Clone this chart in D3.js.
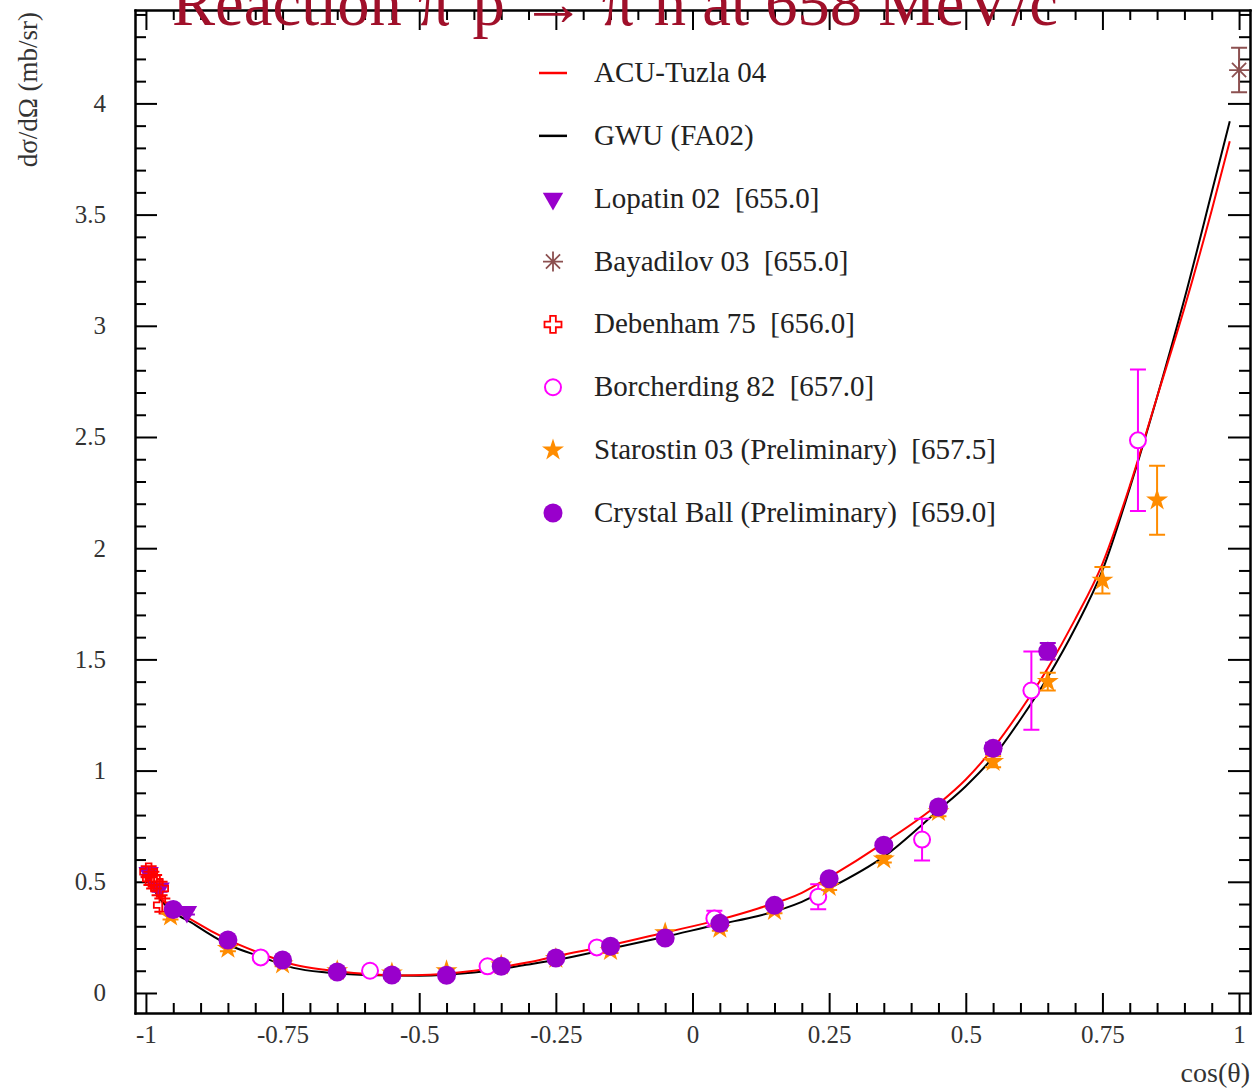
<!DOCTYPE html>
<html>
<head>
<meta charset="utf-8">
<script src="https://cdn.jsdelivr.net/npm/d3@7"></script>
<style>
  html, body { margin: 0; padding: 0; background: #fff; }
  svg { display: block; }
  text { font-family: "Liberation Serif", "Times New Roman", serif; white-space: pre; }
</style>
</head>
<body>
<svg id="chart" width="1254" height="1088"></svg>
<script>
// Axis ticks
const xMajorTicks = [-1, -0.75, -0.5, -0.25, 0, 0.25, 0.5, 0.75, 1];
const yMajorTicks = [0, 0.5, 1, 1.5, 2, 2.5, 3, 3.5, 4];

// Model curves: [cos(theta), dsigma/dOmega]
const acuTuzla = [
  [-1, 0.52], [-0.97, 0.42], [-0.91, 0.32], [-0.85, 0.24], [-0.79, 0.178],
  [-0.73, 0.128], [-0.67, 0.103], [-0.6, 0.086], [-0.54, 0.079], [-0.48, 0.082],
  [-0.4, 0.1], [-0.3, 0.138], [-0.25, 0.165], [-0.15, 0.215], [-0.05, 0.272],
  [0.05, 0.33], [0.12, 0.38], [0.2, 0.45], [0.25, 0.52], [0.35, 0.675],
  [0.45, 0.85], [0.5, 0.96], [0.55, 1.1], [0.6, 1.27], [0.65, 1.46],
  [0.7, 1.68], [0.75, 1.93], [0.8, 2.28], [0.85, 2.68], [0.9, 3.08],
  [0.95, 3.52], [0.983, 3.83]
];
const gwuFA02 = [
  [-1, 0.52], [-0.97, 0.41], [-0.91, 0.306], [-0.85, 0.218], [-0.79, 0.163],
  [-0.73, 0.113], [-0.67, 0.092], [-0.6, 0.081], [-0.5, 0.078], [-0.4, 0.092],
  [-0.3, 0.128], [-0.25, 0.148], [-0.15, 0.2], [-0.05, 0.253], [0.05, 0.31],
  [0.12, 0.346], [0.2, 0.41], [0.25, 0.47], [0.35, 0.613], [0.45, 0.822],
  [0.5, 0.93], [0.55, 1.06], [0.6, 1.23], [0.65, 1.42], [0.7, 1.64],
  [0.75, 1.9], [0.8, 2.27], [0.85, 2.68], [0.9, 3.12], [0.95, 3.6],
  [0.983, 3.92]
];

// Measurements: [cos(theta), value, error]
const lopatin02 = [[-0.995, 0.54, 0.015], [-0.975, 0.47, 0.015], [-0.925, 0.365, 0.012]];
const bayadilov03 = [[1.0, 4.15, 0.10]];
const debenham75 = [
  [-0.995, 0.545, 0.025], [-0.99, 0.515, 0.03], [-0.985, 0.5, 0.03],
  [-0.975, 0.47, 0.03], [-0.97, 0.395, 0.03]
];
const borcherding82 = [
  [-0.79, 0.16, 0.01], [-0.59, 0.1, 0.01], [-0.375, 0.12, 0.01], [-0.175, 0.205, 0.01],
  [0.04, 0.335, 0.035], [0.23, 0.433, 0.056], [0.42, 0.69, 0.094], [0.62, 1.36, 0.176],
  [0.815, 2.485, 0.318]
];
const starostin03 = [
  [-0.955, 0.345, 0.015], [-0.85, 0.2, 0.012], [-0.75, 0.13, 0.01], [-0.65, 0.1, 0.008],
  [-0.55, 0.09, 0.008], [-0.45, 0.1, 0.008], [-0.35, 0.125, 0.008], [-0.25, 0.155, 0.01],
  [-0.15, 0.19, 0.01], [-0.05, 0.27, 0.01], [0.05, 0.29, 0.01], [0.15, 0.37, 0.012],
  [0.25, 0.478, 0.015], [0.35, 0.602, 0.015], [0.45, 0.815, 0.02], [0.55, 1.04, 0.025],
  [0.65, 1.4, 0.04], [0.75, 1.856, 0.06], [0.85, 2.216, 0.155]
];
const crystalBall = [
  [-0.95, 0.375, 0.015], [-0.85, 0.238, 0.01], [-0.75, 0.148, 0.008], [-0.65, 0.094, 0.006],
  [-0.55, 0.081, 0.006], [-0.45, 0.08, 0.006], [-0.35, 0.12, 0.006], [-0.25, 0.157, 0.008],
  [-0.15, 0.21, 0.008], [-0.05, 0.247, 0.008], [0.05, 0.313, 0.01], [0.15, 0.394, 0.012],
  [0.25, 0.514, 0.014], [0.35, 0.664, 0.016], [0.45, 0.836, 0.02], [0.55, 1.1, 0.025],
  [0.65, 1.537, 0.037]
];

const legendLabels = [
  "ACU-Tuzla 04", "GWU (FA02)", "Lopatin 02  [655.0]", "Bayadilov 03  [655.0]",
  "Debenham 75  [656.0]", "Borcherding 82  [657.0]",
  "Starostin 03 (Preliminary)  [657.5]", "Crystal Ball (Preliminary)  [659.0]"
];

const svg = d3.select("#chart");
const frame = { left: 135, right: 1250, top: 10, bottom: 1013 };

const x = d3.scaleLinear().domain([-1.02, 1.02]).range([frame.left, frame.right]);
const y = d3.scaleLinear().domain([-0.09, 4.42]).range([frame.bottom, frame.top]);

// ---- marker shapes ----
function openCrossPath(s) {
  const h = s / 2, a = s / 6;
  return `M${-a},${-h}H${a}V${-a}H${h}V${a}H${a}V${h}H${-a}V${a}H${-h}V${-a}H${-a}Z`;
}
function asteriskPath(s) {
  const h = s / 2, d = h * Math.SQRT1_2;
  return `M0,${-h}V${h}M${-h},0H${h}M${-d},${-d}L${d},${d}M${-d},${d}L${d},${-d}`;
}
const styles = {
  lopatin: { color: "#9900cc", draw: g => g.append("path").attr("d", d3.symbol(d3.symbolTriangle, 180)()).attr("transform", "rotate(180)").attr("fill", "#9900cc") },
  bayadilov: { color: "#8c5050", draw: g => g.append("path").attr("d", asteriskPath(20)).attr("fill", "none").attr("stroke", "#8c5050").attr("stroke-width", 1.8) },
  debenham: { color: "#ff0000", draw: g => g.append("path").attr("d", openCrossPath(17)).attr("fill", "none").attr("stroke", "#ff0000").attr("stroke-width", 1.8) },
  borcherding: { color: "#ff00ff", draw: g => g.append("circle").attr("r", 8).attr("fill", "#fff").attr("stroke", "#ff00ff").attr("stroke-width", 2) },
  starostin: { color: "#ff8c00", draw: g => g.append("path").attr("d", d3.symbol(d3.symbolStar, 150)()).attr("fill", "#ff8c00") },
  crystal: { color: "#9900cc", draw: g => g.append("circle").attr("r", 9.5).attr("fill", "#9900cc") }
};

// ---- axes (ticks drawn inward on all four sides) ----
const range = (a, b, s) => d3.range(Math.round(a / s), Math.round(b / s) + 1).map(i => +(i * s).toFixed(4));
const xMinor = range(-1, 1, 0.05).filter(v => !xMajorTicks.includes(v));
const yMinor = range(0, 4.4, 0.1).filter(v => !yMajorTicks.includes(v));
const fmt = d => String(d);

function styleAxis(g) {
  g.select(".domain").attr("stroke", "#000").attr("stroke-width", 2);
  g.selectAll(".tick line").attr("stroke", "#000").attr("stroke-width", 2);
  g.selectAll(".tick text").attr("fill", "#333").attr("font-size", 25)
    .attr("font-family", '"Liberation Serif", serif');
}

const axes = svg.append("g");
// bottom
axes.append("g").attr("transform", `translate(0,${frame.bottom})`)
  .call(d3.axisBottom(x).tickValues(xMinor).tickSize(-10).tickSizeOuter(0).tickFormat(""))
  .call(styleAxis);
axes.append("g").attr("transform", `translate(0,${frame.bottom})`)
  .call(d3.axisBottom(x).tickValues(xMajorTicks).tickSize(-20).tickSizeOuter(0).tickPadding(12).tickFormat(fmt))
  .call(styleAxis);
// top
axes.append("g").attr("transform", `translate(0,${frame.top})`)
  .call(d3.axisTop(x).tickValues(xMinor).tickSize(-10).tickSizeOuter(0).tickFormat(""))
  .call(styleAxis);
axes.append("g").attr("transform", `translate(0,${frame.top})`)
  .call(d3.axisTop(x).tickValues(xMajorTicks).tickSize(-20).tickSizeOuter(0).tickFormat(""))
  .call(styleAxis);
// left
axes.append("g").attr("transform", `translate(${frame.left},0)`)
  .call(d3.axisLeft(y).tickValues(yMinor).tickSize(-11).tickSizeOuter(0).tickFormat(""))
  .call(styleAxis);
axes.append("g").attr("transform", `translate(${frame.left},0)`)
  .call(d3.axisLeft(y).tickValues(yMajorTicks).tickSize(-22).tickSizeOuter(0).tickPadding(29).tickFormat(fmt))
  .call(styleAxis);
// right
axes.append("g").attr("transform", `translate(${frame.right},0)`)
  .call(d3.axisRight(y).tickValues(yMinor).tickSize(-11).tickSizeOuter(0).tickFormat(""))
  .call(styleAxis);
axes.append("g").attr("transform", `translate(${frame.right},0)`)
  .call(d3.axisRight(y).tickValues(yMajorTicks).tickSize(-22).tickSizeOuter(0).tickFormat(""))
  .call(styleAxis);
axes.selectAll(".domain").attr("stroke-linecap", "square");

// ---- model curves ----
const line = d3.line().x(d => x(d[0])).y(d => y(d[1])).curve(d3.curveMonotoneX);
svg.append("path").datum(gwuFA02).attr("d", line)
  .attr("fill", "none").attr("stroke", "#000").attr("stroke-width", 2);
svg.append("path").datum(acuTuzla).attr("d", line)
  .attr("fill", "none").attr("stroke", "#ff0000").attr("stroke-width", 2);

// ---- measurements with error bars ----
function drawSeries(data, key) {
  const st = styles[key];
  const g = svg.append("g");
  const pts = g.selectAll("g").data(data).join("g");
  pts.append("path")
    .attr("d", d => {
      const cx = x(d[0]), y0 = y(d[1] - d[2]), y1 = y(d[1] + d[2]), c = 8;
      return `M${cx},${y0}V${y1}M${cx - c},${y0}H${cx + c}M${cx - c},${y1}H${cx + c}`;
    })
    .attr("fill", "none").attr("stroke", st.color).attr("stroke-width", 2);
  pts.append("g").attr("transform", d => `translate(${x(d[0])},${y(d[1])})`)
    .each(function () { st.draw(d3.select(this)); });
}
drawSeries(lopatin02, "lopatin");
drawSeries(bayadilov03, "bayadilov");
drawSeries(debenham75, "debenham");
drawSeries(borcherding82, "borcherding");
drawSeries(starostin03, "starostin");
drawSeries(crystalBall, "crystal");

// ---- legend ----
const legendKeys = ["acu", "gwu", "lopatin", "bayadilov", "debenham", "borcherding", "starostin", "crystal"];
const legend = svg.append("g");
legendKeys.forEach((k, i) => {
  const cy = 73 + i * 62.85;
  const row = legend.append("g").attr("transform", `translate(553,${cy})`);
  if (k === "acu" || k === "gwu") {
    row.append("line").attr("x1", -14).attr("x2", 14)
      .attr("stroke", k === "acu" ? "#ff0000" : "#000").attr("stroke-width", 2.5);
  } else {
    styles[k].draw(row);
  }
  legend.append("text").attr("x", 594).attr("y", cy + 9)
    .attr("font-size", 29).attr("fill", "#222").text(legendLabels[i]);
});

// ---- axis titles ----
svg.append("text")
  .attr("transform", "translate(37,12) rotate(-90)")
  .attr("text-anchor", "end").attr("font-size", 27).attr("fill", "#333")
  .text("dσ/dΩ (mb/sr)");
svg.append("text").attr("x", 1250).attr("y", 1082)
  .attr("text-anchor", "end").attr("font-size", 28).attr("fill", "#333")
  .text("cos(θ)");

// ---- title ----
const title = svg.append("text").attr("x", 172).attr("y", 25)
  .attr("font-size", 60).attr("fill", "#a0102a");
title.append("tspan").text("Reaction π");
title.append("tspan").attr("dy", -24).attr("font-size", 36).text("−");
title.append("tspan").attr("dy", 24).text("p → π");
title.append("tspan").attr("dy", -24).attr("font-size", 36).text("0");
title.append("tspan").attr("dy", 24).text("n at 658 MeV/c");
const tw = title.node().getComputedTextLength();
if (tw > 0) {
  const k = 886 / tw;
  title.attr("transform", `translate(172,25) scale(${k}) translate(-172,-25)`);
}
</script>
</body>
</html>
